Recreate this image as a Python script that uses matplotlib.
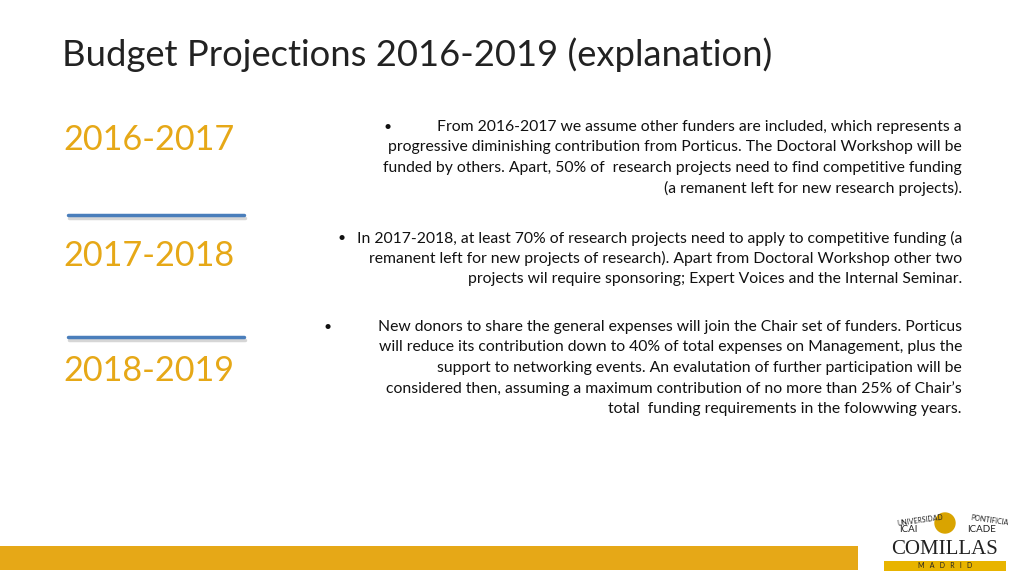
import matplotlib
matplotlib.use('Agg')
import matplotlib.pyplot as plt
from matplotlib.patches import Rectangle

plt.rcParams['font.family'] = 'Lato'

TITLE = 'Budget Projections 2016-2019 (explanation)'
YEARS = ['2016-2017', '2017-2018', '2018-2019']
YEAR_Y = [140, 256, 371]
DIVIDER_Y = [215, 337]
PARAGRAPHS = [
    ['From 2016-2017 we assume other funders are included, which represents a',
     'progressive diminishing contribution from Porticus. The Doctoral Workshop will be',
     'funded by others. Apart, 50% of  research projects need to find competitive funding',
     '(a remanent left for new research projects).'],
    ['In 2017-2018, at least 70% of research projects need to apply to competitive funding (a',
     'remanent left for new projects of research). Apart from Doctoral Workshop other two',
     'projects wil require sponsoring; Expert Voices and the Internal Seminar.'],
    ['New donors to share the general expenses will join the Chair set of funders. Porticus',
     'will reduce its contribution down to 40% of total expenses on Management, plus the',
     'support to networking events. An evalutation of further participation will be',
     'considered then, assuming a maximum contribution of no more than 25% of Chair\u2019s',
     'total  funding requirements in the folowwing years.'],
]
PARA_Y = [127, 238, 327]
BULLET_X = [388, 342, 328]

ORANGE = '#E6A817'

fig = plt.figure(figsize=(10.24, 5.76), dpi=100)
ax = fig.add_axes([0, 0, 1, 1])
ax.set_xlim(0, 1024); ax.set_ylim(576, 0); ax.axis('off')

ax.text(62, 55, TITLE, fontsize=26.2, color='#222222', va='center', ha='left')

for y, lab in zip(YEAR_Y, YEARS):
    ax.text(63, y, lab, fontsize=24.7, color=ORANGE, va='center', ha='left')

for y in DIVIDER_Y:
    ax.plot([69, 245], [y + 2.5, y + 2.5], color='#bbbbbb', lw=2.5, alpha=0.6, solid_capstyle='round')
    ax.plot([68, 244], [y, y], color='#4a7ebb', lw=2.5, solid_capstyle='round')

for lines, y0, bx in zip(PARAGRAPHS, PARA_Y, BULLET_X):
    ax.text(bx, y0, '\u2022', fontsize=10, color='#111111', va='center', ha='center')
    for i, line in enumerate(lines):
        ax.text(962, y0 + i * 20.5, line, fontsize=11.3, color='#111111', va='center', ha='right')

ax.add_patch(Rectangle((0, 546), 858, 24, color=ORANGE, lw=0))

# logo
ax.text(920, 520, 'UNIVERSIDAD', fontsize=5, ha='center', va='center', color='#222', rotation=8)
ax.text(990, 520, 'PONTIFICIA', fontsize=5, ha='center', va='center', color='#222', rotation=-8)
ax.text(908, 530, 'ICAI', fontsize=7, ha='center', va='center', color='#222')
ax.text(982, 530, 'ICADE', fontsize=7, ha='center', va='center', color='#222')
ax.add_patch(plt.Circle((945, 523), 10, color='#d9a400'))
ax.text(945, 549, 'COMILLAS', fontsize=15, ha='center', va='center', color='#222',
        fontfamily='Liberation Serif')
ax.add_patch(Rectangle((884, 561), 122, 10, color='#e8b400', lw=0))
ax.text(945, 566, 'M   A   D   R   I   D', fontsize=5, ha='center', va='center', color='#222')

fig.savefig('out.png', dpi=100)
